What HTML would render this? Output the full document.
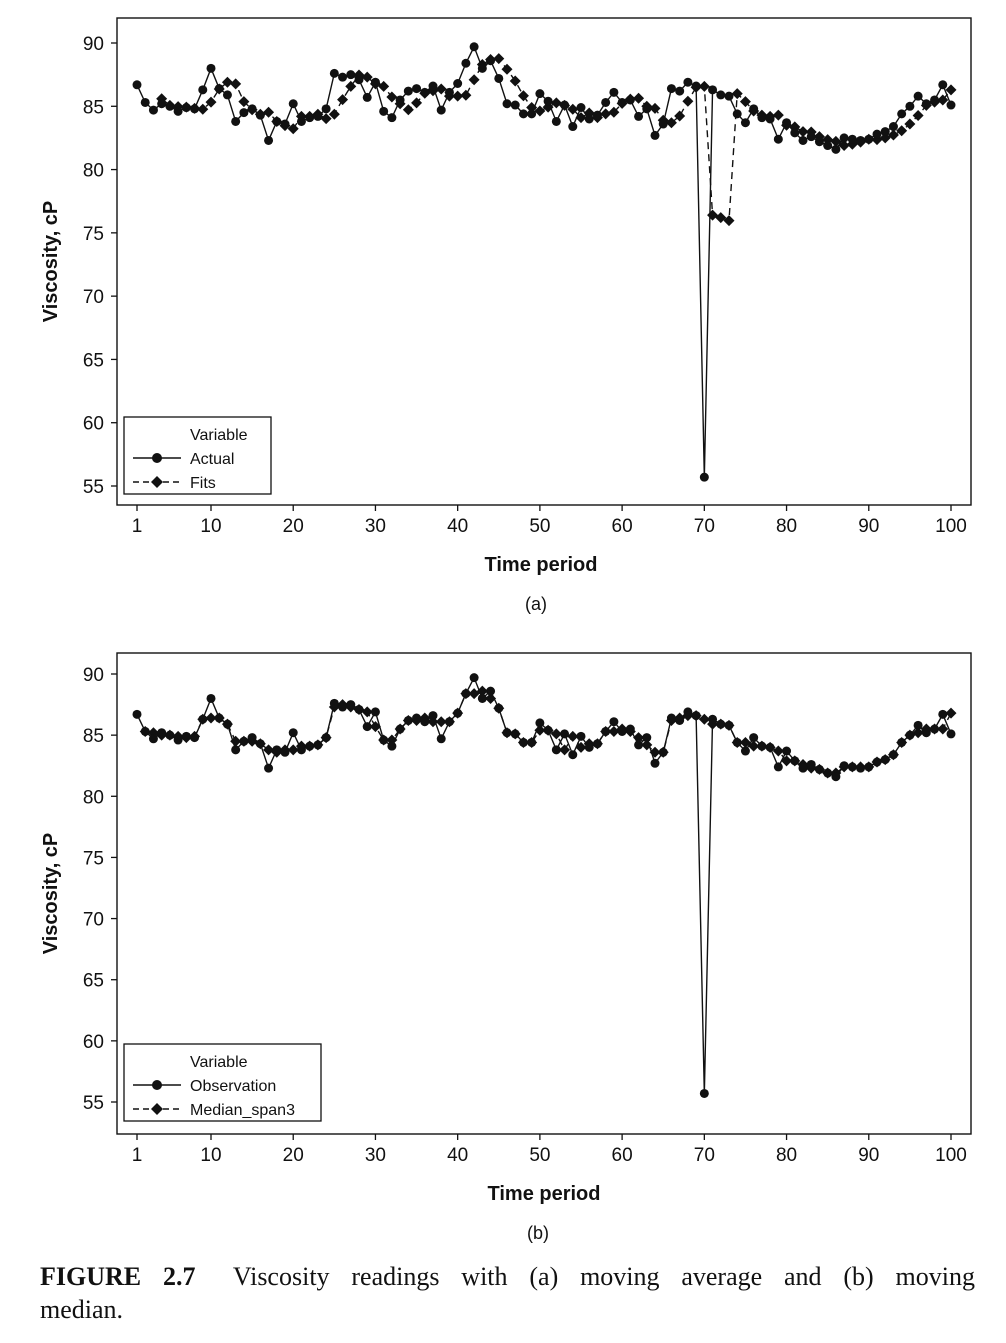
<!DOCTYPE html>
<html><head><meta charset="utf-8"><style>
body{margin:0;background:#fff}
svg{display:block;font-family:"Liberation Sans",sans-serif}
</style></head><body>
<svg id="svg" width="1006" height="1343" viewBox="0 0 1006 1343"></svg>
<script>
const periods = Array.from({length:100},(_,i)=>i+1);
const actual = [86.7,85.3,84.7,85.2,85.0,84.6,84.9,84.8,86.3,88.0,86.4,85.9,83.8,84.5,84.8,84.3,82.3,83.8,83.6,85.2,83.8,84.1,84.2,84.8,87.6,87.3,87.5,87.1,85.7,86.9,84.6,84.1,85.5,86.2,86.4,86.1,86.6,84.7,86.1,86.8,88.4,89.7,88.0,88.6,87.2,85.2,85.1,84.4,84.4,86.0,85.4,83.8,85.1,83.4,84.9,84.0,84.3,85.3,86.1,85.3,85.5,84.2,84.8,82.7,83.6,86.4,86.2,86.9,86.6,55.7,86.3,85.9,85.8,84.4,83.7,84.8,84.1,84.0,82.4,83.7,82.9,82.3,82.6,82.2,81.9,81.6,82.5,82.4,82.3,82.4,82.8,83.0,83.4,84.4,85.0,85.8,85.2,85.5,86.7,85.1];
const fits = [null,null,null,85.6,85.07,84.97,84.93,84.83,84.77,85.33,86.37,86.9,86.77,85.37,84.73,84.37,84.53,83.8,83.47,83.23,84.2,84.2,84.37,84.03,84.37,85.53,86.57,87.47,87.3,86.77,86.57,85.73,85.2,84.73,85.27,86.03,86.23,86.37,85.8,85.8,85.87,87.1,88.3,88.7,88.77,87.93,87.0,85.83,84.9,84.63,84.93,85.27,85.07,84.77,84.1,84.47,84.1,84.4,84.53,85.23,85.57,85.63,85.0,84.83,83.9,83.7,84.23,85.4,86.5,86.57,76.4,76.2,75.97,86.0,85.37,84.63,84.3,84.2,84.3,83.5,83.37,83.0,82.97,82.6,82.37,82.23,81.9,82.0,82.17,82.4,82.37,82.5,82.73,83.07,83.6,84.27,85.07,85.33,85.5,86.3];
const median3 = [null,85.3,85.2,85.0,85.0,84.9,84.8,84.9,86.3,86.4,86.4,85.9,84.5,84.5,84.5,84.3,83.8,83.6,83.8,83.8,84.1,84.1,84.2,84.8,87.3,87.5,87.3,87.1,86.9,85.7,84.6,84.6,85.5,86.2,86.2,86.4,86.1,86.1,86.1,86.8,88.4,88.4,88.6,88.0,87.2,85.2,85.1,84.4,84.4,85.4,85.4,85.1,83.8,84.9,84.0,84.3,84.3,85.3,85.3,85.5,85.3,84.8,84.2,83.6,83.6,86.2,86.4,86.6,86.6,86.3,85.9,85.9,85.8,84.4,84.4,84.1,84.1,84.0,83.7,82.9,82.9,82.6,82.3,82.2,81.9,81.9,82.4,82.4,82.4,82.4,82.8,83.0,83.4,84.4,85.0,85.2,85.5,85.5,85.5,86.8];
const yTicks = [55,60,65,70,75,80,85,90];
const xTicks = [1,10,20,30,40,50,60,70,80,90,100];

const NS="http://www.w3.org/2000/svg";
const svg=document.getElementById('svg');
function mk(tag,attrs,parent){const e=document.createElementNS(NS,tag);for(const k in attrs)e.setAttribute(k,attrs[k]);(parent||svg).appendChild(e);return e;}
function txt(s,attrs,parent){const e=mk('text',attrs,parent);e.textContent=s;return e;}

function panel(cfg){
  const g=mk('g',{});
  
  
  const X=v=>137+(v-1)*(951-137)/99;
  const Y=v=>cfg.y90+(90-v)*(cfg.y55-cfg.y90)/35;
  const fr=mk('rect',{x:117,y:cfg.top,width:854,height:cfg.bot-cfg.top,fill:'none',stroke:'#111','stroke-width':1.4},g);
  
  
  yTicks.forEach(v=>{
    mk('line',{x1:111,x2:117,y1:Y(v),y2:Y(v),stroke:'#111','stroke-width':1.3},g);
    const t=txt(String(v),{x:104,y:Y(v)+7,'text-anchor':'end','font-size':19,fill:'#111'},g);
    
    
  });
  xTicks.forEach(v=>{
    mk('line',{x1:X(v),x2:X(v),y1:cfg.bot,y2:cfg.bot+6,stroke:'#111','stroke-width':1.3},g);
    const t=txt(String(v),{x:X(v),y:cfg.bot+27,'text-anchor':'middle','font-size':19,fill:'#111'},g);
    
    
  });
  const xt=txt('Time period',{x:cfg.xtx,y:cfg.bot+66,'text-anchor':'middle','font-size':20,'font-weight':'bold',fill:'#111'},g);
  
  
  const cy=(cfg.top+cfg.bot)/2;
  const yt=txt('Viscosity, cP',{x:0,y:0,transform:`translate(57,${cy}) rotate(-90)`,'text-anchor':'middle','font-size':20,'font-weight':'bold',fill:'#111'},g);
  
  
  const sub=txt(cfg.sub,{x:cfg.subx,y:cfg.bot+105,'text-anchor':'middle','font-size':18,fill:'#111'},g);
  
  
  let d='';
  periods.forEach((p,i)=>{d+=(d?'L':'M')+X(p)+','+Y(actual[i]);});
  const l1=mk('path',{d:d,fill:'none',stroke:'#111','stroke-width':1.4},g);
  
  
  let d2='';
  periods.forEach((p,i)=>{const v=cfg.s2[i];if(v==null)return;d2+=(d2?'L':'M')+X(p)+','+Y(v);});
  const l2=mk('path',{d:d2,fill:'none',stroke:'#111','stroke-width':1.4,'stroke-dasharray':'7,5'},g);
  
  
  periods.forEach((p,i)=>{const v=cfg.s2[i];if(v==null)return;
    const x=X(p),y=Y(v),s=5.5;
    const dm=mk('polygon',{points:`${x},${y-s} ${x+s},${y} ${x},${y+s} ${x-s},${y}`,fill:'#111'},g);
    
    
  });
  periods.forEach((p,i)=>{
    const c=mk('circle',{cx:X(p),cy:Y(actual[i]),r:4.5,fill:'#111'},g);
    
    
  });
  const L=cfg.leg;
  const lg=mk('g',{},g);
  
  
  mk('rect',{x:124,y:L.y,width:L.w,height:77,fill:'#fff',stroke:'#111','stroke-width':1.3},lg);
  txt('Variable',{x:190,y:L.y+23,'font-size':16,fill:'#111'},lg);
  mk('line',{x1:133,x2:181,y1:L.y+41,y2:L.y+41,stroke:'#111','stroke-width':1.4},lg);
  mk('circle',{cx:157,cy:L.y+41,r:5,fill:'#111'},lg);
  const e1=txt(L.a,{x:190,y:L.y+47,'font-size':16,fill:'#111'},lg);
  
  
  mk('line',{x1:133,x2:181,y1:L.y+65,y2:L.y+65,stroke:'#111','stroke-width':1.4,'stroke-dasharray':'6,4'},lg);
  const yy=L.y+65;
  mk('polygon',{points:`157,${yy-6} 163,${yy} 157,${yy+6} 151,${yy}`,fill:'#111'},lg);
  const e2=txt(L.b,{x:190,y:L.y+71,'font-size':16,fill:'#111'},lg);
  
  
}
panel({name:'chart-moving-average',top:18,bot:505,y90:43,y55:486,s2:fits,sub:'(a)',subx:536,xtx:541,leg:{y:417,w:147,a:'Actual',b:'Fits'}});
panel({name:'chart-moving-median',top:653,bot:1134,y90:674,y55:1102,s2:median3,sub:'(b)',subx:538,xtx:544,leg:{y:1044,w:197,a:'Observation',b:'Median_span3'}});

// justified caption line: place words with even gaps
const capG=mk('g',{});


const words=[['FIGURE',1],['2.7',1],['Viscosity',0],['readings',0],['with',0],['(a)',0],['moving',0],['average',0],['and',0],['(b)',0],['moving',0]];
const els=words.map(w=>txt(w[0],{x:0,y:1285,'font-family':'"Liberation Serif",serif','font-size':26,'font-weight':w[1]?'bold':'normal',fill:'#111'},capG));
let tot=0;els.forEach(e=>tot+=e.getComputedTextLength());
const gapN=els.length-1;
let gap=(935-tot)/gapN;
let cx=40;
els.forEach((e,i)=>{e.setAttribute('x',cx);cx+=e.getComputedTextLength()+(i===1?gap*1.6:gap)-(i===1?0:(gap*0.6/(gapN-1)));});
const cap2=txt('median.',{x:40,y:1318,'font-family':'"Liberation Serif",serif','font-size':26,fill:'#111'});


</script>
</body></html>
